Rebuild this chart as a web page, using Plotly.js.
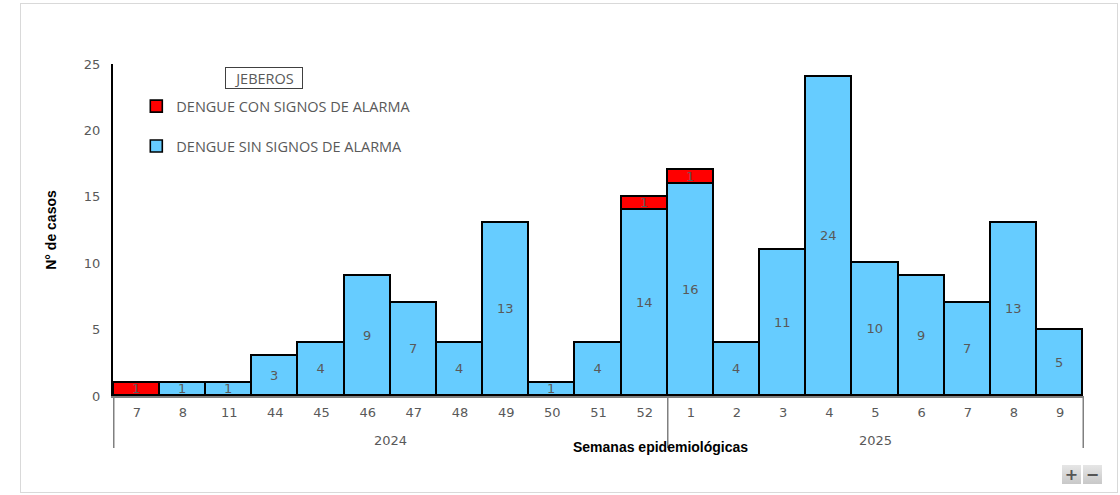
<!DOCTYPE html>
<html><head><meta charset="utf-8">
<script src="https://cdn.plot.ly/plotly-3.0.1.min.js"></script>
<style>
body{margin:0;padding:0;background:#fff;}
#wrap{position:relative;width:1120px;height:495px;}
#chart{width:1120px;height:495px;}
#frame{position:absolute;left:20px;top:3px;width:1096px;height:488px;border:1.5px solid #d9d9d9;pointer-events:none;}
.zb{position:absolute;top:465px;width:19px;height:19px;background:linear-gradient(#e6e6e6,#c8c8c8);color:#555;font:bold 16px 'DejaVu Sans',sans-serif;text-align:center;line-height:19px;}
</style></head>
<body>
<div id="wrap"><div id="chart"></div><div id="frame"></div>
<div class="zb" style="left:1062px">+</div><div class="zb" style="left:1083px">−</div></div>
<script>
const years = ["2024","2024","2024","2024","2024","2024","2024","2024","2024","2024","2024","2024",
               "2025","2025","2025","2025","2025","2025","2025","2025","2025"];
const weeks = ["7","8","11","44","45","46","47","48","49","50","51","52",
               "1","2","3","4","5","6","7","8","9"];
const sinSignos = [0,1,1,3,4,9,7,4,13,1,4,14,16,4,11,24,10,9,7,13,5];
const conSignos = [1,0,0,0,0,0,0,0,0,0,0,1,1,0,0,0,0,0,0,0,0];

const keys = weeks.map((w,i) => years[i] + "-" + w);
const nz = a => a.map(v => v > 0 ? v : null);
const tx = a => a.map(v => v > 0 ? String(v) : "");
const textFont = {family:"DejaVu Sans, sans-serif", size:13, color:"#595959"};

const traces = [
  {type:"bar", name:"DENGUE SIN SIGNOS DE ALARMA", x:keys, y:nz(sinSignos), text:tx(sinSignos),
   textposition:"inside", insidetextanchor:"middle", textangle:0, textfont:textFont, legendrank:2, legendgroup:"b",
   marker:{color:"#66CCFF", line:{color:"#000", width:1.6}}, hoverinfo:"y"},
  {type:"bar", name:"DENGUE CON SIGNOS DE ALARMA", x:keys, y:nz(conSignos), text:tx(conSignos),
   textposition:"inside", insidetextanchor:"middle", textangle:0, textfont:textFont, legendrank:1, legendgroup:"a",
   marker:{color:"#FF0000", line:{color:"#000", width:1.6}}, hoverinfo:"y"}
];

// year groups
const groups = [];
years.forEach((y,i) => {
  if (!groups.length || groups[groups.length-1].year !== y) groups.push({year:y, start:i, end:i});
  else groups[groups.length-1].end = i;
});
const divY = -(448-396)/332;
const shapes = [];
groups.forEach((g,k) => {
  shapes.push({type:"line", xref:"x", yref:"paper", x0:g.start-0.5, x1:g.start-0.5, y0:0, y1:divY,
               line:{color:"#808080", width:1.5}});
  if (k === groups.length-1)
    shapes.push({type:"line", xref:"x", yref:"paper", x0:g.end+0.5, x1:g.end+0.5, y0:0, y1:divY,
                 line:{color:"#808080", width:1.5}});
});
const yearAnn = groups.map(g => ({xref:"x", yref:"paper", x:(g.start+g.end)/2, y:-(440-396)/332,
  xanchor:"center", yanchor:"middle", text:g.year, showarrow:false,
  font:{family:"DejaVu Sans, sans-serif", size:13, color:"#595959"}}));

const layout = {
  width:1120, height:495,
  margin:{l:113, r:36, t:64, b:99},
  paper_bgcolor:"#fff", plot_bgcolor:"#fff",
  barmode:"stack", bargap:0,
  uniformtext:{minsize:13, mode:"show"},
  showlegend:true,
  legend:{x:0.024, y:0.921, xanchor:"left", yanchor:"top", bgcolor:"rgba(0,0,0,0)",
          traceorder:"grouped", tracegroupgap:18,
          font:{family:"Open Sans, sans-serif", size:14.5, color:"#595959"}},
  xaxis:{type:"category", showgrid:false, zeroline:false, showline:true, linecolor:"#808080", linewidth:1.5,
         ticks:"", tickvals:keys, ticktext:weeks, ticklabelstandoff:4,
         tickfont:{family:"DejaVu Sans, sans-serif", size:13, color:"#595959"}},
  yaxis:{range:[0,25], dtick:5, showgrid:false, zeroline:false, showline:true, linecolor:"#000", linewidth:2,
         ticks:"", ticklabelstandoff:8,
         tickfont:{family:"DejaVu Sans, sans-serif", size:13, color:"#595959"},
         title:{text:"N° de casos", standoff:24, font:{family:"Liberation Sans, Arial, sans-serif", size:14, color:"#000", weight:"bold"}}},
  shapes:shapes,
  annotations:[
    {xref:"paper", yref:"paper", x:(264-113)/971, y:(396-78)/332, xanchor:"center", yanchor:"middle",
     text:"JEBEROS", showarrow:false, bordercolor:"#404040", borderwidth:1, borderpad:1, width:74, height:18,
     font:{family:"Open Sans, sans-serif", size:14.5, color:"#595959"}},
    {xref:"paper", yref:"paper", x:(660-113)/971, y:-(447-396)/332, xanchor:"center", yanchor:"middle",
     text:"<b>Semanas epidemiológicas</b>", showarrow:false,
     font:{family:"Liberation Sans, Arial, sans-serif", size:14, color:"#000"}}
  ].concat(yearAnn)
};
Plotly.newPlot("chart", traces, layout, {displayModeBar:false});
</script>
</body></html>
